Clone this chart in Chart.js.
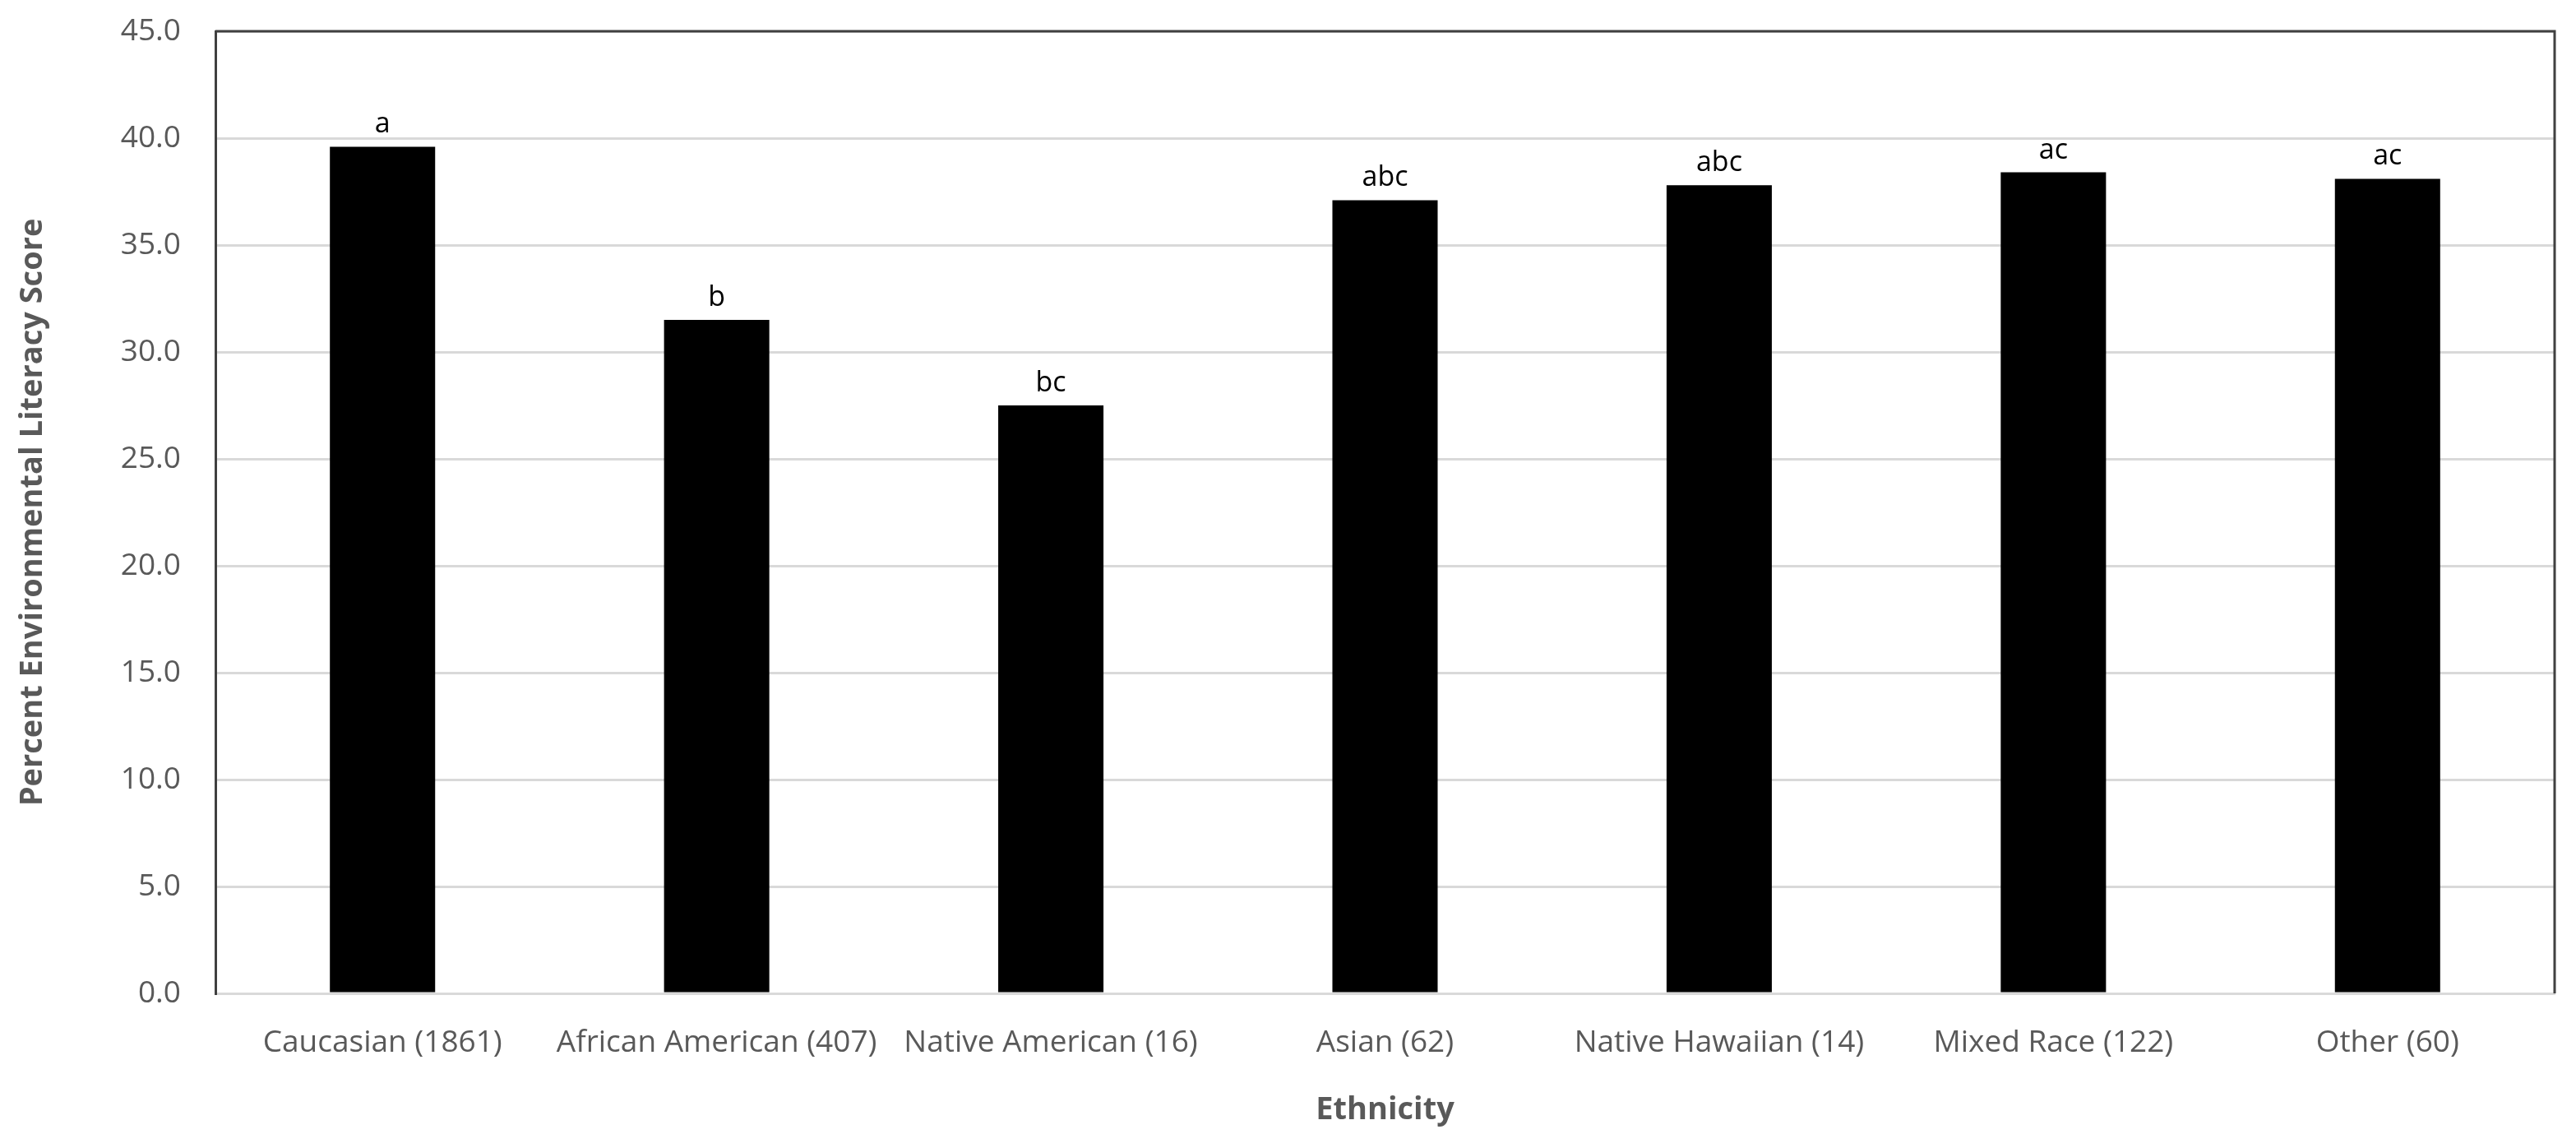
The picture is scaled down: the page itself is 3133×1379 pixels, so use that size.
<!DOCTYPE html>
<html lang="en">

<head>
  <meta charset="UTF-8">
  <title>Environmental Literacy by Ethnicity</title>
  <script src="https://cdn.jsdelivr.net/npm/chart.js"></script>
  <style>
    html, body { margin: 0; padding: 0; background: #fff; }
    #grafico { display: block; }
  </style>
</head>

<body>
  <canvas id="grafico" width="3133" height="1379"></canvas>
</body>
<script>
  // dados
  const etnias = ['Caucasian (1861)', 'African American (407)', 'Native American (16)', 'Asian (62)',
    'Native Hawaiian (14)', 'Mixed Race (122)', 'Other (60)'];
  const pontuacoes = [39.6, 31.5, 27.5, 37.1, 37.8, 38.4, 38.1];
  const letras = ['a', 'b', 'bc', 'abc', 'abc', 'ac', 'ac'];
  const yMin = 0, yMax = 45, yPasso = 5;

  const cinza = '#595959';

  // letras de significancia acima das barras
  const letrasPlugin = {
    id: 'letras',
    afterDatasetsDraw(chart) {
      const ctx = chart.ctx;
      const meta = chart.getDatasetMeta(0);
      ctx.save();
      ctx.font = '34px "Open Sans"';
      ctx.fillStyle = '#000';
      ctx.textAlign = 'center';
      ctx.textBaseline = 'alphabetic';
      meta.data.forEach((bar, i) => {
        ctx.fillText(letras[i], bar.x, bar.y - 17);
      });
      ctx.restore();
    }
  };

  // moldura da area do grafico (topo e direita)
  const molduraPlugin = {
    id: 'moldura',
    afterDraw(chart) {
      const a = chart.chartArea;
      const ctx = chart.ctx;
      ctx.save();
      ctx.strokeStyle = '#404040';
      ctx.lineWidth = 3;
      ctx.beginPath();
      ctx.moveTo(a.left, a.top);
      ctx.lineTo(a.right, a.top);
      ctx.lineTo(a.right, a.bottom);
      ctx.stroke();
      ctx.restore();
    }
  };

  function desenhar() {
    const ctx = document.getElementById('grafico').getContext('2d');
    new Chart(ctx, {
      type: 'bar',
      data: {
        labels: etnias,
        datasets: [{
          label: 'Percent Environmental Literacy Score',
          data: pontuacoes,
          backgroundColor: '#000',
          borderWidth: 0,
          categoryPercentage: 1,
          barPercentage: 0.315
        }]
      },
      options: {
        responsive: false,
        animation: false,
        devicePixelRatio: 1,
        layout: { padding: { top: 38, right: 26, left: 0, bottom: 0 } },
        plugins: {
          legend: { display: false },
          tooltip: { enabled: false }
        },
        scales: {
          x: {
            grid: { display: false, drawTicks: false },
            border: { display: true, color: '#d9d9d9', width: 3 },
            ticks: {
              color: cinza,
              font: { family: 'Open Sans', size: 37 },
              padding: 38,
              maxRotation: 0,
              autoSkip: false
            },
            title: {
              display: true,
              text: 'Ethnicity',
              color: cinza,
              font: { family: 'Open Sans', size: 38, weight: 'bold' },
              padding: { top: 0, bottom: 6 }
            },
            afterFit(scale) { scale.height = 171; }
          },
          y: {
            min: yMin,
            max: yMax,
            ticks: {
              stepSize: yPasso,
              color: cinza,
              font: { family: 'Open Sans', size: 37 },
              padding: 42,
              callback: v => v.toFixed(1)
            },
            grid: { color: '#d9d9d9', lineWidth: 3, drawTicks: false },
            border: { display: true, color: '#404040', width: 3 },
            title: {
              display: true,
              text: 'Percent Environmental Literacy Score',
              color: cinza,
              font: { family: 'Open Sans', size: 38, weight: 'bold' },
              padding: { top: 17, bottom: 0 }
            },
            afterFit(scale) {
              scale.width = 262;
              scale.paddingTop = 0;
              scale.paddingBottom = 0;
            }
          }
        }
      },
      plugins: [letrasPlugin, molduraPlugin]
    });
  }

  document.fonts.load('37px "Open Sans"').then(desenhar, desenhar);
</script>

</html>
